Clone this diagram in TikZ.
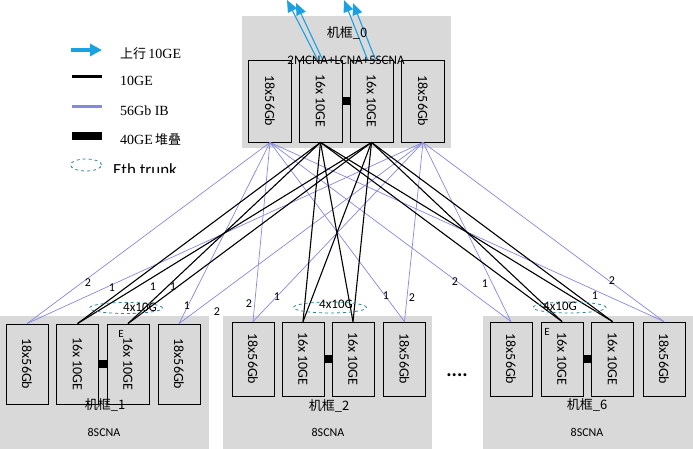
\documentclass[tikz,border=0pt]{standalone}
\usepackage{fontspec}
\setmainfont{Carlito}
\newfontfamily\cjk{Noto Sans CJK SC}
\newfontfamily\lgd{Liberation Serif}
\usepackage{graphicx}
\usetikzlibrary{shapes.geometric,arrows.meta}
\definecolor{rackgray}{RGB}{217,217,217}
\definecolor{ibpurple}{RGB}{135,135,225}
\definecolor{upblue}{RGB}{27,161,226}
\definecolor{trunkblue}{RGB}{49,132,155}
\begin{document}
\begin{tikzpicture}[x=1pt,y=-1pt,
  rackbox/.style={fill=rackgray},
  card/.style={draw,fill=rackgray,line width=0.8pt,inner sep=0pt,minimum width=43pt,minimum height=82pt,font=\fontsize{14}{14}\selectfont},
  lowcard/.style={card,minimum width=42pt,minimum height=74pt},
  ibline/.style={ibpurple,line width=0.7pt},
  tenline/.style={black,line width=1.1pt},
  stacklink/.style={black,line width=7.5pt},
  uplink/.style={upblue,line width=1.1pt,-{Triangle[length=12pt,width=10pt]}},
  trunkring/.style={draw=trunkblue,dashed,ellipse,line width=0.8pt,inner sep=0pt,minimum width=73pt,minimum height=11pt},
  cnt/.style={font=\fontsize{12}{12}\selectfont,inner sep=0pt},
  rackname/.style={font=\cjk\fontsize{13}{13}\selectfont,inner sep=0pt},
  racktype/.style={font=\fontsize{12}{12}\selectfont,inner sep=0pt}]
\useasboundingbox (0,0) rectangle (693,449);

% chassis
\fill[rackbox] (242,16) rectangle (451,148);
\fill[rackbox] (0,316) rectangle (209,449);
\fill[rackbox] (223,316) rectangle (432,449);
\fill[rackbox] (483,316) rectangle (693,449);

% chassis_0
\node[card] (t1) at (270,101) {\rotatebox{-90}{18x56Gb}};
\node[card] (t2) at (320.5,101) {\rotatebox{-90}{16x 10GE}};
\node[card] (t3) at (371.5,101) {\rotatebox{-90}{16x 10GE}};
\node[card] (t4) at (423,101) {\rotatebox{-90}{18x56Gb}};

% chassis_1
\node[card,minimum width=42pt,minimum height=80pt] (a1) at (27,364) {\rotatebox{-90}{18x56Gb}};
\node[card,minimum width=42pt,minimum height=80pt] (a2) at (77.5,364) {\rotatebox{-90}{16x 10GE}};
\node[card,minimum width=42pt,minimum height=80pt] (a3) at (128,364) {\rotatebox{-90}{16x 10GE}};
\node[card,minimum width=42pt,minimum height=80pt] (a4) at (179,364) {\rotatebox{-90}{18x56Gb}};

% chassis_2
\node[lowcard] (b1) at (253,359) {\rotatebox{-90}{18x56Gb}};
\node[lowcard] (b2) at (303,359) {\rotatebox{-90}{16x 10GE}};
\node[lowcard] (b3) at (353,359) {\rotatebox{-90}{16x 10GE}};
\node[lowcard] (b4) at (404.5,359) {\rotatebox{-90}{18x56Gb}};

% chassis_6
\node[lowcard] (c1) at (511,359) {\rotatebox{-90}{18x56Gb}};
\node[lowcard] (c2) at (562,359) {\rotatebox{-90}{16x 10GE}};
\node[lowcard] (c3) at (612.5,359) {\rotatebox{-90}{16x 10GE}};
\node[lowcard] (c4) at (664,359) {\rotatebox{-90}{18x56Gb}};

% 56Gb IB
\draw[ibline] (t1.south) -- (a1.north);
\draw[ibline] (t1.south) -- (a4.north);
\draw[ibline] (t1.south) -- (b1.north);
\draw[ibline] (t1.south) -- (b4.north);
\draw[ibline] (t1.south) -- (c1.north);
\draw[ibline] (t1.south) -- (c4.north);
\draw[ibline] (t4.south) -- (a1.north);
\draw[ibline] (t4.south) -- (a4.north);
\draw[ibline] (t4.south) -- (b1.north);
\draw[ibline] (t4.south) -- (b4.north);
\draw[ibline] (t4.south) -- (c1.north);
\draw[ibline] (t4.south) -- (c4.north);

% 10GE
\draw[tenline] (t2.south) -- (a2.north);
\draw[tenline] (t2.south) -- (a3.north);
\draw[tenline] (t2.south) -- (b2.north);
\draw[tenline] (t2.south) -- (b3.north);
\draw[tenline] (t2.south) -- (c2.north);
\draw[tenline] (t2.south) -- (c3.north);
\draw[tenline] (t3.south) -- (a2.north);
\draw[tenline] (t3.south) -- (a3.north);
\draw[tenline] (t3.south) -- (b2.north);
\draw[tenline] (t3.south) -- (b3.north);
\draw[tenline] (t3.south) -- (c2.north);
\draw[tenline] (t3.south) -- (c3.north);

% 40GE stacking
\draw[stacklink] (t2.east) -- (t3.west);
\draw[stacklink] (a2.east) -- (a3.west);
\draw[stacklink] (b2.east) -- (b3.west);
\draw[stacklink] (c2.east) -- (c3.west);

% uplinks
\coordinate (up1) at (287,0);
\coordinate (up2) at (296,3);
\coordinate (up3) at (344,0);
\coordinate (up4) at (353,3);
\draw[uplink] ([xshift=-3pt]t2.north) -- (up1);
\draw[uplink] ([xshift=2pt]t2.north) -- (up2);
\draw[uplink] ([xshift=-4pt]t3.north) -- (up3);
\draw[uplink] ([xshift=4pt]t3.north) -- (up4);

% eth trunks
\node[trunkring] (k1) at (126,308) {};
\node[trunkring] (k2) at (330,307.5) {};
\node[trunkring] (k3) at (569.5,307.5) {};
\node[font=\fontsize{13}{13}\selectfont,inner sep=0pt] (k1t) at (140,307) {4x10G};
\node[font=\fontsize{13}{13}\selectfont,inner sep=0pt] (k2t) at (336,304) {4x10G};
\node[font=\fontsize{13}{13}\selectfont,inner sep=0pt] (k3t) at (560,306) {4x10G};

% link counts
\node[cnt] (n1) at (88,283) {2};
\node[cnt] (n2) at (112,288) {1};
\node[cnt] (n3) at (153,287) {1};
\node[cnt] (n4) at (173,287) {1};
\node[cnt] (n5) at (187,306) {1};
\node[cnt] (n6) at (217,312) {2};
\node[cnt] (n7) at (249,304) {2};
\node[cnt] (n8) at (277,297) {1};
\node[cnt] (n9) at (386,296) {1};
\node[cnt] (n10) at (412,298) {2};
\node[cnt] (n11) at (455,282) {2};
\node[cnt] (n12) at (485,284) {1};
\node[cnt] (n13) at (595,296) {1};
\node[cnt] (n14) at (612,281) {2};

% chassis labels
\node[rackname] (r0) at (347,33) {机框\_0};
\node[font=\fontsize{13}{13}\selectfont,inner sep=0pt] (r0t) at (346,60) {2MCNA+LCNA+5SCNA};
\node[rackname] (r1) at (105,405) {机框\_1};
\node[racktype] (r1t) at (104,432) {8SCNA};
\node[rackname] (r2) at (329,406) {机框\_2};
\node[racktype] (r2t) at (328,432) {8SCNA};
\node[rackname] (r6) at (587,405) {机框\_6};
\node[racktype] (r6t) at (587,432) {8SCNA};
\node[font=\fontsize{11}{11}\selectfont,inner sep=0pt] (e1) at (121,334) {E};
\node[font=\fontsize{11}{11}\selectfont,inner sep=0pt] (e6) at (547,332) {E};
\node[font=\bfseries\fontsize{20}{20}\selectfont,inner sep=0pt] (dots) at (457,375) {....};

% legend
\draw[upblue,line width=4pt,-{Triangle[length=12pt,width=12pt]}] (71,50) -- (102,50);
\draw[black,line width=3pt] (72,77) -- (102,77);
\draw[ibpurple,line width=3pt] (72,107) -- (102,107);
\fill[black] (72,132) rectangle (102,140);
\draw[trunkblue,dashed,line width=0.8pt] (86,165) ellipse (15.5pt and 6pt);
\node[anchor=west,inner sep=0pt] (g1) at (120,54) {{\cjk\fontsize{13}{13}\selectfont 上行} {\lgd\fontsize{14}{14}\selectfont 10GE}};
\node[anchor=west,inner sep=0pt,font=\lgd\fontsize{14}{14}\selectfont] (g2) at (120,81) {10GE};
\node[anchor=west,inner sep=0pt,font=\lgd\fontsize{14}{14}\selectfont] (g3) at (120,111) {56Gb IB};
\node[anchor=west,inner sep=0pt] (g4) at (120,140) {{\lgd\fontsize{14}{14}\selectfont 40GE} {\cjk\fontsize{13}{13}\selectfont 堆叠}};
\begin{scope}
\clip (100,150) rectangle (240,173);
\node[anchor=west,inner sep=0pt,font=\fontsize{17}{17}\selectfont] (g5) at (113,170) {Eth trunk};
\end{scope}
\end{tikzpicture}
\end{document}
